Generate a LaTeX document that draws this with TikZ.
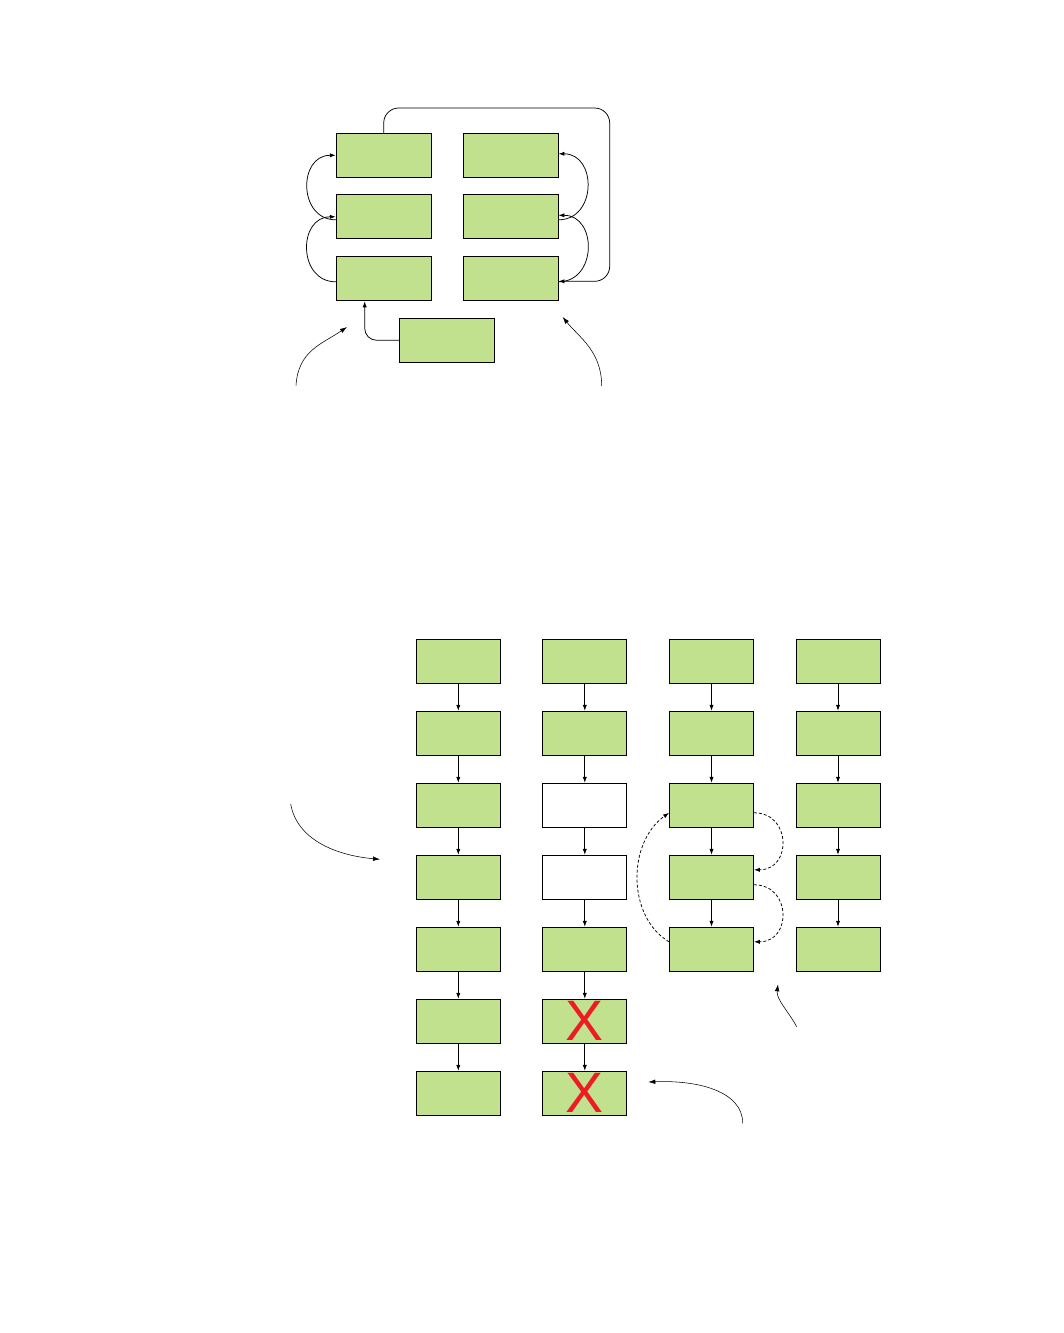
\documentclass[tikz,border=0pt]{standalone}
\usepackage{fontspec}
\setsansfont{Liberation Sans}
\usetikzlibrary{arrows.meta}
\definecolor{boxgreen}{RGB}{194,225,143}
\definecolor{crossred}{RGB}{237,28,36}

\begin{document}
\begin{tikzpicture}[x=1pt,y=1pt,yscale=-1,xscale=1,
    gbox/.style={draw, fill=boxgreen, line width=0.9pt, minimum width=84, minimum height=44, inner sep=0pt},
    wbox/.style={gbox, fill=white},
    tbox/.style={gbox, minimum width=95},
    xbox/.style={gbox, text=crossred, font=\sffamily\fontsize{57}{57}\selectfont},
    link/.style={line width=0.75pt, -{Latex[length=6pt,width=4.2pt]}},
    dlink/.style={link, dash pattern={on 3pt off 2pt}},
    note/.style={line width=0.55pt, -{Latex[length=7pt,width=4.6pt]}}]
        %set diagram size
        \path (0,0) rectangle (1063,1333);

        %Shape: Rectangle (top, left column)
        \node[tbox] (tl1) at (383.7,155.3) {};
        \node[tbox] (tl2) at (383.7,216.8) {};
        \node[tbox] (tl3) at (383.7,278.8) {};
        %Shape: Rectangle (top, right column)
        \node[tbox] (tr1) at (510.5,155.3) {};
        \node[tbox] (tr2) at (510.5,216.8) {};
        \node[tbox] (tr3) at (510.5,278.8) {};
        %Shape: Rectangle (top, below)
        \node[tbox] (tb) at (447.3,340.3) {};

        %Curve Lines (left side)
        \draw[link] ([yshift=3pt]tl3.west) to[out=180,in=180,looseness=1.5] (tl2.west);
        \draw[link] ([yshift=3pt]tl2.west) to[out=180,in=180,looseness=1.5] (tl1.west);
        %Curve Lines (right side)
        \draw[link] ([yshift=3pt]tr3.east) to[out=0,in=0,looseness=1.5] ([yshift=-1.5pt]tr2.east);
        \draw[link] ([yshift=3pt]tr2.east) to[out=0,in=0,looseness=1.5] ([yshift=-1.5pt]tr1.east);
        %Straight Lines (loop round)
        \coordinate (loopc) at (609.7,108);
        \draw[link, rounded corners=15] (tl1.north) |- (loopc) |- (tr3.-3);
        %Straight Lines (from below)
        \coordinate (tbin) at (364.7,301.3);
        \draw[link, rounded corners=12] (tb.west) -| (tbin);

        %Curve Lines (free arrows)
        \coordinate (na1) at (296,385.7);
        \coordinate (na2) at (347,327);
        \draw[note] (na1) .. controls +(2,-35) and +(-25,17) .. (na2);
        \coordinate (nb1) at (601.7,386);
        \coordinate (nb2) at (562.7,317);
        \draw[note] (nb1) .. controls +(0,-35) and +(16,20) .. (nb2);

        %Shape: Rectangle (first column)
        \node[gbox] (ca1) at (458.3,661.3) {};
        \node[gbox] (ca2) at (458.3,733.3) {};
        \node[gbox] (ca3) at (458.3,805.3) {};
        \node[gbox] (ca4) at (458.3,877.3) {};
        \node[gbox] (ca5) at (458.3,949.3) {};
        \node[gbox] (ca6) at (458.3,1021.3) {};
        \node[gbox] (ca7) at (458.3,1093.3) {};
        %Shape: Rectangle (second column)
        \node[gbox] (cb1) at (584.8,661.3) {};
        \node[gbox] (cb2) at (584.8,733.3) {};
        \node[wbox] (cb3) at (584.8,805.3) {};
        \node[wbox] (cb4) at (584.8,877.3) {};
        \node[gbox] (cb5) at (584.8,949.3) {};
        \node[xbox] (cb6) at (584.8,1021.3) {X};
        \node[xbox] (cb7) at (584.8,1093.3) {X};
        %Shape: Rectangle (third column)
        \node[gbox] (cc1) at (711.5,661.3) {};
        \node[gbox] (cc2) at (711.5,733.3) {};
        \node[gbox] (cc3) at (711.5,805.3) {};
        \node[gbox] (cc4) at (711.5,877.3) {};
        \node[gbox] (cc5) at (711.5,949.3) {};
        %Shape: Rectangle (fourth column)
        \node[gbox] (cd1) at (838,661.3) {};
        \node[gbox] (cd2) at (838,733.3) {};
        \node[gbox] (cd3) at (838,805.3) {};
        \node[gbox] (cd4) at (838,877.3) {};
        \node[gbox] (cd5) at (838,949.3) {};

        %Straight Lines (first column)
        \draw[link] (ca1) -- (ca2);
        \draw[link] (ca2) -- (ca3);
        \draw[link] (ca3) -- (ca4);
        \draw[link] (ca4) -- (ca5);
        \draw[link] (ca5) -- (ca6);
        \draw[link] (ca6) -- (ca7);
        %Straight Lines (second column)
        \draw[link] (cb1) -- (cb2);
        \draw[link] (cb2) -- (cb3);
        \draw[link] (cb3) -- (cb4);
        \draw[link] (cb4) -- (cb5);
        \draw[link] (cb5) -- (cb6);
        \draw[link] (cb6) -- (cb7);
        %Straight Lines (third column)
        \draw[link] (cc1) -- (cc2);
        \draw[link] (cc2) -- (cc3);
        \draw[link] (cc3) -- (cc4);
        \draw[link] (cc4) -- (cc5);
        %Straight Lines (fourth column)
        \draw[link] (cd1) -- (cd2);
        \draw[link] (cd2) -- (cd3);
        \draw[link] (cd3) -- (cd4);
        \draw[link] (cd4) -- (cd5);

        %Curve Lines (dashed, third column)
        \draw[dlink] (cc3.-10) to[out=0,in=0,looseness=1.7] (cc4.10);
        \draw[dlink] (cc4.-10) to[out=0,in=0,looseness=1.7] (cc5.10);
        \draw[dlink] (cc5.170) .. controls +(-42,-25) and +(-42,30) .. (cc3.190);

        %Curve Lines (free arrows)
        \coordinate (nc1) at (290.7,804);
        \coordinate (nc2) at (380,859.3);
        \draw[note] (nc1) .. controls +(6,35) and +(-45,-4) .. (nc2);
        \coordinate (nd1) at (796.7,1026.7);
        \coordinate (nd2) at (778,984.3);
        \draw[note] (nd1) .. controls +(-8,-15) and +(-2,15) .. (nd2);
        \coordinate (ne1) at (742.7,1123.3);
        \coordinate (ne2) at (648.3,1082);
        \draw[note] (ne1) .. controls +(0,-32) and +(50,-2) .. (ne2);
\end{tikzpicture}
\end{document}
